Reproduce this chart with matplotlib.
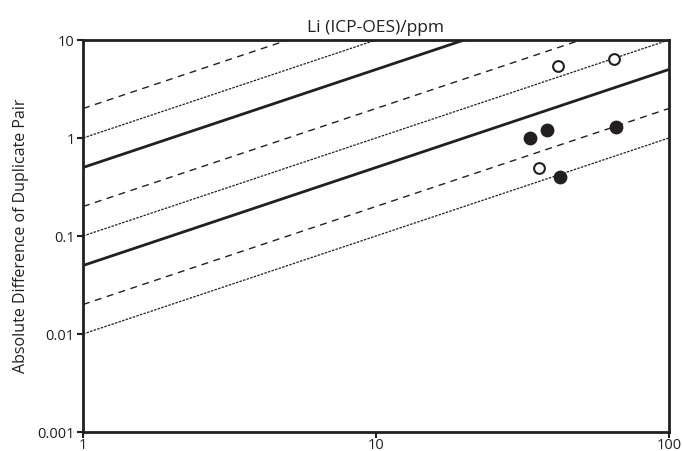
import numpy as np
import matplotlib
matplotlib.use("Agg")
import matplotlib.pyplot as plt

plt.rcParams["font.family"] = ["Open Sans", "DejaVu Sans"]

# reference lines: y = k * x
solid_k  = [0.5, 0.05]
dashed_k = [2.0, 0.2, 0.02]
dotted_k = [1.0, 0.1, 0.01]

# duplicate pairs
filled_x = [33.5, 38.5, 42.5, 66.0]
filled_y = [1.0, 1.2, 0.4, 1.3]
open_x   = [42.0, 65.0, 36.0]
open_y   = [5.4, 6.4, 0.5]

x_ticks = [1, 10, 100]
x_tick_labels = ["1", "10", "100"]
y_ticks = [0.001, 0.01, 0.1, 1, 10]
y_tick_labels = ["0.001", "0.01", "0.1", "1", "10"]

fig = plt.figure(figsize=(6.82, 4.51), dpi=100)
ax = fig.add_axes([0.1217, 0.0421, 0.859, 0.8692])

xs = np.array([1.0, 100.0])
for k in solid_k:
    ax.plot(xs, k * xs, color="#231f20", lw=2.0, solid_capstyle="butt")
for k in dashed_k:
    ax.plot(xs, k * xs, color="#231f20", lw=1.0, dashes=(5, 4))
for k in dotted_k:
    ax.plot(xs, k * xs, color="#231f20", lw=0.9, dashes=(2, 1))

ax.scatter(filled_x, filled_y, s=80, color="#231f20", zorder=5)
ax.scatter(open_x, open_y, s=60, facecolor="white", edgecolor="#231f20",
           linewidth=1.5, zorder=5)

ax.set_xscale("log")
ax.set_yscale("log")
ax.set_xlim(1, 100)
ax.set_ylim(0.001, 10)
ax.set_xticks(x_ticks)
ax.set_xticklabels(x_tick_labels)
ax.set_yticks(y_ticks)
ax.set_yticklabels(y_tick_labels)
ax.minorticks_off()
ax.tick_params(direction="out", length=4, width=1.5, labelsize=10.5,
               color="#231f20", labelcolor="#231f20", pad=2)
ax.tick_params(axis="x", pad=0)
for sp in ax.spines.values():
    sp.set_linewidth(2)
    sp.set_color("#231f20")

ax.set_title("Li (ICP-OES)/ppm", fontsize=12.5, color="#231f20", pad=6)
ax.set_ylabel("Absolute Difference of Duplicate Pair", fontsize=11.5,
              color="#231f20", labelpad=6)

fig.savefig("out.png", dpi=100)
